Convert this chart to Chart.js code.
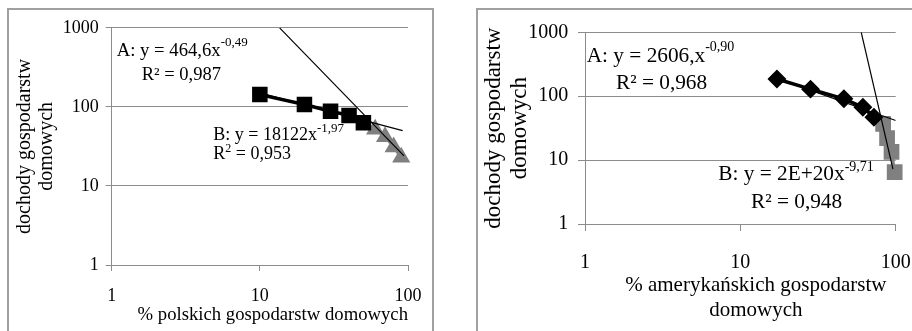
<!DOCTYPE html>
<html>
<head>
<meta charset="utf-8">
<script src="https://cdn.jsdelivr.net/npm/chart.js"></script>
<style>
  html, body { margin: 0; padding: 0; background: #fff; overflow: hidden; }
  body { width: 912px; height: 331px; position: relative; }
  .box { position: absolute; border: 2px solid #a0a0a0; box-sizing: border-box; }
  #boxPl { left: 7px; top: 8px; width: 427px; height: 400px; }
  #boxUs { left: 476px; top: 8px; width: 500px; height: 400px; }
  canvas { position: absolute; }
</style>
</head>
<body>
<div class="box" id="boxPl"></div>
<div class="box" id="boxUs"></div>
<canvas id="chartPl" width="430" height="321" style="left:9px;top:10px"></canvas>
<canvas id="chartUs" width="460" height="321" style="left:478px;top:10px"></canvas>
<script>
const FONT = '"Liberation Serif", "Times New Roman", serif';
const GRID = '#8c8c8c';
const GRAY = '#808080';

const xTicks = [1, 10, 100];
const yTicks = [1, 10, 100, 1000];

// Polska: A (kwadraty), B (trojkaty) i linie trendu
const plX = [10, 20, 30, 40, 50];
const plY = [143, 107, 88, 78, 63];
const plTailX = [60, 70, 80, 90];
const plTailY = [52, 42, 31, 23];
const plTrendAX = [10, 92];
const plTrendAY = [150, 50];
const plTrendBX = [13.6, 94];
const plTrendBY = [1000, 24];

// USA: A (romby), B (kwadraty) i linie trendu
const usX = [17.2, 28.3, 46.4, 61.5, 72.4];
const usY = [186, 129, 91, 67, 47];
const usTailX = [83, 88, 94, 98.5];
const usTailY = [37, 22, 13.5, 6.5];
const usTrendAX = [17.2, 100];
const usTrendAY = [190, 41.6];
const usTrendBX = [60, 96];
const usTrendBY = [1000, 7.2];

const pts = (xs, ys) => xs.map((x, i) => ({ x: x, y: ys[i] }));

// napisy z wykladnikami (rownania, R2)
const notesPlugin = {
  id: 'notes',
  afterDraw(chart, args, opts) {
    const ctx = chart.ctx;
    ctx.save();
    ctx.fillStyle = '#000';
    ctx.textBaseline = 'alphabetic';
    ctx.textAlign = 'left';
    opts.items.forEach(n => {
      const fonts = n.parts.map(p => (p[1] ? n.supSize : n.size) + 'px ' + FONT);
      let total = 0;
      const widths = n.parts.map((p, i) => {
        ctx.font = fonts[i];
        const w = ctx.measureText(p[0]).width;
        total += w;
        return w;
      });
      let x = n.align === 'center' ? n.x - total / 2 : n.x;
      n.parts.forEach((p, i) => {
        ctx.font = fonts[i];
        ctx.fillText(p[0], x, p[1] ? n.y + n.supDy : n.y);
        x += widths[i];
      });
    });
    ctx.restore();
  }
};

function makeChart(id, o) {
  return new Chart(document.getElementById(id), {
    type: 'scatter',
    data: { datasets: o.datasets },
    options: {
      responsive: false,
      animation: false,
      devicePixelRatio: 1,
      layout: { padding: o.padding },
      plugins: {
        legend: { display: false },
        tooltip: { enabled: false },
        notes: { items: o.notes }
      },
      scales: {
        x: {
          type: 'logarithmic',
          min: 1,
          max: 100,
          afterBuildTicks: s => { s.ticks = xTicks.map(v => ({ value: v })); },
          afterFit: s => { s.height = o.xHeight; },
          grid: { drawOnChartArea: false, color: GRID, tickColor: GRID, tickLength: o.tl },
          border: { color: GRID, width: 1 },
          ticks: {
            color: '#000', font: { family: FONT, size: o.tickSize }, padding: o.xPad,
            maxRotation: 0, autoSkip: false, callback: v => String(v)
          },
          title: o.xTitle
        },
        y: {
          type: 'logarithmic',
          min: 1,
          max: 1000,
          afterBuildTicks: s => { s.ticks = yTicks.map(v => ({ value: v })); },
          afterFit: s => { s.width = o.yWidth; },
          grid: { color: GRID, tickColor: GRID, tickLength: o.tl },
          border: { color: GRID, width: 1 },
          ticks: {
            color: '#000', font: { family: FONT, size: o.tickSize }, padding: o.yPad,
            autoSkip: false, callback: v => String(v)
          },
          title: {
            display: true,
            text: ['dochody gospodarstw', 'domowych'],
            color: '#000',
            font: { family: FONT, size: o.titleSize, lineHeight: o.titleLH },
            padding: { top: o.yTitlePad, bottom: 0 }
          }
        }
      }
    },
    plugins: [notesPlugin]
  });
}

makeChart('chartPl', {
  padding: { left: 0, top: 16, right: 31, bottom: 0 },
  yWidth: 102.7, xHeight: 66, tl: 6, xPad: 14, yPad: 7,
  tickSize: 18, titleSize: 20, titleLH: 1.1, yTitlePad: 4.7,
  xTitle: {
    display: true, text: '% polskich gospodarstw domowych', align: 'end', color: '#000',
    font: { family: FONT, size: 18.7, lineHeight: 1.2 }, padding: { top: 0, bottom: 5 }
  },
  datasets: [
    { data: pts(plTrendBX, plTrendBY), showLine: true, borderColor: '#000', borderWidth: 1.2, pointRadius: 0 },
    { data: pts(plTrendAX, plTrendAY), showLine: true, borderColor: '#000', borderWidth: 1.2, pointRadius: 0 },
    { data: pts(plX, plY), showLine: true, borderColor: '#000', borderWidth: 3.5,
      pointStyle: 'rect', pointRadius: 8.5, backgroundColor: '#000' },
    { data: pts(plTailX, plTailY), showLine: true, borderColor: GRAY, borderWidth: 3, clip: false,
      pointStyle: 'triangle', pointRadius: 7.5, backgroundColor: GRAY }
  ],
  notes: [
    { x: 107.7, y: 46, size: 18.7, supSize: 13, supDy: -10, parts: [['A: y = 464,6x', 0], ['-0,49', 1]] },
    { x: 132.7, y: 70, size: 18.5, parts: [['R\u00b2 = 0,987', 0]] },
    { x: 204.3, y: 130, size: 18, supSize: 13, supDy: -8, parts: [['B: y = 18122x', 0], ['-1,97', 1]] },
    { x: 204.3, y: 149.3, size: 18, supSize: 12, supDy: -7, parts: [['R', 0], ['2', 1], [' = 0,953', 0]] }
  ]
});

makeChart('chartUs', {
  padding: { left: 0, top: 22.3, right: 42.3, bottom: 0 },
  yWidth: 107, xHeight: 107, tl: 7, xPad: 20, yPad: 9.7,
  tickSize: 20, titleSize: 23, titleLH: 1.15, yTitlePad: 2.6,
  xTitle: { display: false },
  datasets: [
    { data: pts(usTrendBX, usTrendBY), showLine: true, borderColor: '#000', borderWidth: 1.2, pointRadius: 0 },
    { data: pts(usTrendAX, usTrendAY), showLine: true, borderColor: '#000', borderWidth: 1.2, pointRadius: 0 },
    { data: pts(usX, usY), showLine: true, borderColor: '#000', borderWidth: 3.5,
      pointStyle: 'rectRot', pointRadius: 7, backgroundColor: '#000' },
    { data: pts(usTailX, usTailY), showLine: true, borderColor: GRAY, borderWidth: 3, clip: false,
      pointStyle: 'rect', pointRadius: 9, backgroundColor: GRAY }
  ],
  notes: [
    { x: 108.7, y: 51.7, size: 21.3, supSize: 14, supDy: -10.5, parts: [['A: y = 2606,x', 0], ['-0,90', 1]] },
    { x: 138, y: 79.3, size: 21.3, parts: [['R\u00b2 = 0,968', 0]] },
    { x: 240.3, y: 170, size: 21.3, supSize: 14, supDy: -9, parts: [['B: y = 2E+20x', 0], ['-9,71', 1]] },
    { x: 273, y: 198.3, size: 21.3, parts: [['R\u00b2 = 0,948', 0]] },
    { x: 277.8, y: 281, size: 21, align: 'center', parts: [['% amerykańskich gospodarstw', 0]] },
    { x: 277.8, y: 306, size: 21, align: 'center', parts: [['domowych', 0]] }
  ]
});
</script>
</body>
</html>
